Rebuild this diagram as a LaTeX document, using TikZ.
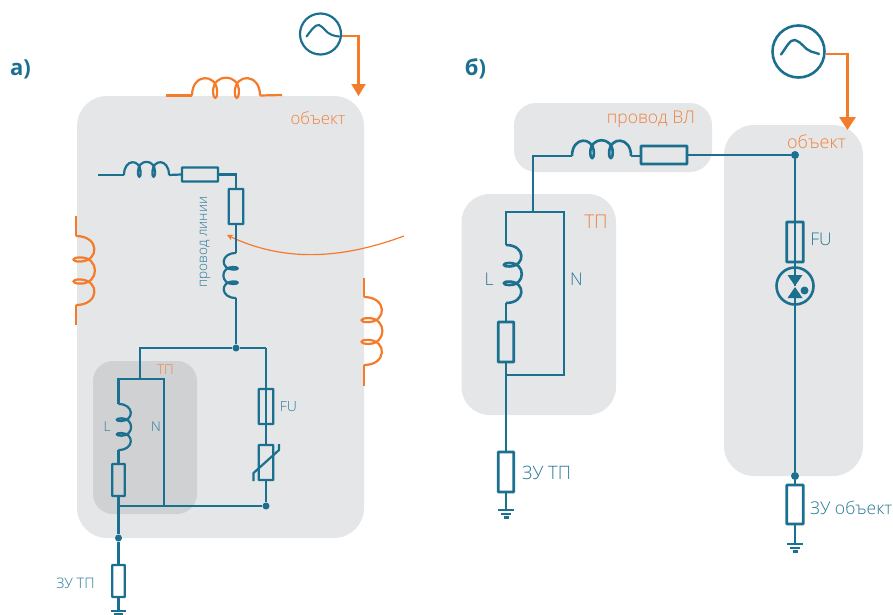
\documentclass[tikz,border=0pt]{standalone}
\usepackage{fontspec}
\setmainfont{Open Sans Light}
\newfontfamily\boldlabel{Open Sans}
\usetikzlibrary{arrows.meta}
\definecolor{teal1}{HTML}{1B6F8F}
\definecolor{tealtxt}{HTML}{2A7896}
\definecolor{org}{HTML}{F47B2A}
\definecolor{orgtxt}{HTML}{EF8340}
\definecolor{grayA}{HTML}{E5E6E8}
\definecolor{grayB}{HTML}{D0D1D3}
\tikzset{
  wire/.style={draw=teal1,line width=2.2pt},
  wireb/.style={draw=teal1,line width=2.6pt},
  owire/.style={draw=org,line width=2.2pt},
  rbox/.style={draw=teal1,line width=2.2pt,inner sep=0pt,rectangle,rounded corners=0.5pt},
  rboxb/.style={draw=teal1,line width=2.6pt,inner sep=0pt,rectangle,rounded corners=0.5pt},
  dotn/.style={circle,fill=teal1,inner sep=0pt,minimum size=7pt},
  panel/.style={fill=grayA},
  tl/.style={text=tealtxt,inner sep=0pt},
  ol/.style={text=orgtxt,inner sep=0pt},
  gen/.style={circle,draw=teal1,inner sep=0pt},
}
\newcommand{\coil}[6]{% x,y,rot,length,height,style
  \begin{scope}[shift={(#1,#2)},rotate=#3,xscale=#4,yscale=#5]
  \draw[#6,line join=round]
    (0,0) .. controls (0,-1.32) and (0.36,-1.32) .. (0.37,-0.25)
    .. controls (0.375,0.28) and (0.31,0.28) .. (0.31,-0.25)
    .. controls (0.31,-1.32) and (0.69,-1.32) .. (0.69,-0.25)
    .. controls (0.69,0.28) and (0.625,0.28) .. (0.63,-0.25)
    .. controls (0.64,-1.32) and (1,-1.32) .. (1,0);
  \end{scope}}
\begin{document}
\begin{tikzpicture}[x=1pt,y=-1pt,font=\fontsize{13}{15}\selectfont]
\useasboundingbox (0,0) rectangle (893,614);
% panels
\fill[panel,rounded corners=30pt] (77,96) rectangle (364,538);
\fill[grayB,rounded corners=20pt] (93,361) rectangle (197,514);
\fill[panel,rounded corners=22pt] (514,103) rectangle (712,172);
\fill[panel,rounded corners=28pt] (461.5,194) rectangle (616,415);
\fill[panel,rounded corners=30pt] (724,125) rectangle (863,476);
% headings
\node[text=teal1,inner sep=0pt,font=\fontsize{22}{24}\selectfont\boldlabel\bfseries] (hA) at (20.5,69) {а)};
\node[text=teal1,inner sep=0pt,font=\fontsize{22}{24}\selectfont\boldlabel\bfseries] (hB) at (475.5,69) {б)};
% ---- panel a ----
\node[gen,line width=2.2pt,minimum size=41pt] (genA) at (320.5,34) {};
\draw[teal1,line width=2.1pt,line cap=round] (306.5,36.5) .. controls (310,32) and (315,24) .. (319,25)
  .. controls (324,27) and (326,33) .. (332,35) .. controls (335,36) and (337,36.3) .. (339,36.5);
\coordinate (a1) at (358.5,36);
\coordinate (a2) at (358.5,96);
\draw[owire,-{Triangle[length=12pt,width=14pt]}] (genA.east |- a1) -- (a1) -- (a2);
% orange coils
\coordinate (ot1) at (166,95.5); \coordinate (ot2) at (192,95.5);
\coordinate (ot3) at (260,95.5); \coordinate (ot4) at (282,95);
\draw[owire] (ot1) -- (ot2); \draw[owire] (ot3) -- (ot4);
\coil{192}{95.5}{0}{68}{17}{owire}
\coordinate (ol1) at (76,216); \coordinate (ol2) at (76,236);
\coordinate (ol3) at (76,305); \coordinate (ol4) at (76,325);
\draw[owire] (ol1) -- (ol2); \draw[owire] (ol3) -- (ol4);
\coil{76}{236}{-90}{69}{18}{owire}
\coordinate (or1) at (364,278); \coordinate (or2) at (364,297);
\coordinate (or3) at (364,365); \coordinate (or4) at (364,386);
\draw[owire] (or1) -- (or2); \draw[owire] (or3) -- (or4);
\coil{364}{297}{-90}{68}{17.5}{owire}
% thin orange pointer
\coordinate (p1) at (404,236);
\coordinate (p2) at (227,235);
\draw[draw=org,line width=1.2pt,-{Stealth[length=6pt,width=6pt]}] (p1) .. controls (350,256) and (290,265) .. (p2);
% line
\coordinate (w0) at (98,175);
\coordinate (w1) at (124,175);
\coordinate (w2) at (169,175);
\draw[wire] (w0) -- (w1);
\coil{124}{175}{0}{45}{12.5}{wire}
\node[rbox,minimum width=36pt,minimum height=14pt] (r1) at (200,174.5) {};
\draw[wire] (w2) -- (r1.west);
\node[rbox,minimum width=14.5pt,minimum height=35pt] (r2) at (236,206.5) {};
\coordinate (w3) at (236,174.5);
\draw[wire] (r1.east) -- (w3) -- (r2.north);
\coordinate (w4) at (236,253);
\coordinate (w5) at (236,298);
\draw[wire] (r2.south) -- (w4);
\coil{236}{253}{-90}{45}{-12}{wire}
\node[dotn,minimum size=7pt] (j1) at (236,348) {};
\draw[wire] (w5) -- (j1);
\coordinate (w6) at (140,348);
\coordinate (w7) at (140,379);
\coordinate (w8) at (266,348);
\draw[wire] (w7) -- (w6) -- (j1) -- (w8);
% TP a
\coordinate (t1) at (118.5,379);
\coordinate (t2) at (164,379);
\coordinate (t3) at (118.5,404);
\coordinate (t4) at (118.5,450);
\coordinate (t5) at (164,506);
\coordinate (t6) at (118.5,506);
\draw[wire,line join=miter] (t3) -- (t1) -- (t2) -- (t5);
\coil{118.5}{404}{-90}{46}{12}{wire}
\node[rbox,minimum width=12.5pt,minimum height=32pt] (r3) at (118.5,480) {};
\draw[wire] (t4) -- (r3.north);
\node[dotn] (j2) at (266,506) {};
\node[dotn] (j3) at (118.5,538) {};
\draw[wire] (r3.south) -- (j3);
\draw[wire] (t6) -- (j2);
% FU a + varistor
\node[rbox,minimum width=14.5pt,minimum height=35pt] (f1) at (266,406.5) {};
\node[rbox,minimum width=14.5pt,minimum height=35pt] (v1) at (266,462.5) {};
\draw[wire] (w8) -- (f1.north);
\draw[wire] (f1.north) -- (f1.south) -- (v1.north);
\draw[wire] (v1.south) -- (j2);
\coordinate (v2) at (253.5,481); \coordinate (v3) at (253.5,473);
\coordinate (v4) at (279,450); \coordinate (v5) at (279,444);
\draw[wire,line join=round] (v2) -- (v3) -- (v4) -- (v5);
% ground a
\node[rbox,minimum width=12.5pt,minimum height=32pt] (r4) at (118.5,581) {};
\draw[wire] (j3) -- (r4.north);
\coordinate (g1) at (118.5,611);
\coordinate (g1l) at (111,611); \coordinate (g1r) at (126,611);
\coordinate (g1a) at (114,614); \coordinate (g1b) at (123,614);
\draw[wire] (r4.south) -- (g1);
\draw[wire] (g1l) -- (g1r);
\draw[wire] (g1a) -- (g1b);
% labels a
\node[ol,font=\fontsize{16.8}{18}\selectfont] (la1) at (318,118.5) {объект};
\node[ol,font=\fontsize{13.5}{15}\selectfont] (la2) at (165.5,370) {ТП};
\node[tl,font=\fontsize{13.5}{15}\selectfont] (la3) at (107,426.5) {L};
\node[tl,font=\fontsize{13.5}{15}\selectfont] (la4) at (156,426.5) {N};
\node[tl,font=\fontsize{14}{16}\selectfont] (la5) at (288.5,406.5) {FU};
\node[tl,font=\fontsize{14.5}{16}\selectfont] (la6) at (75.5,583) {ЗУ ТП};
\node[tl,font=\fontsize{13.6}{15}\selectfont,rotate=90] (la7) at (205,242) {провод линии};
% ---- panel b ----
\node[gen,minimum size=52pt,line width=2.6pt] (genB) at (798.5,51.5) {};
\draw[teal1,line width=2.4pt,line cap=round] (781,54.5) .. controls (786,48) and (790,39) .. (795,40)
  .. controls (802,42) and (804,49) .. (811,51.5) .. controls (816,53) and (818,53.5) .. (819,54);
\coordinate (b1) at (847.5,54);
\coordinate (b2) at (847.5,130);
\draw[owire,line width=2.8pt,-{Triangle[length=13pt,width=16pt]}] (genB.east |- b1) -- (b1) -- (b2);
\coordinate (c1) at (533,212);
\coordinate (c2) at (533,156);
\coordinate (c3) at (572,156);
\coordinate (c4) at (631,156);
\draw[wireb,line join=miter] (c1) -- (c2) -- (c3);
\coil{572}{156}{0}{59}{15}{wireb}
\node[rboxb,minimum width=46pt,minimum height=18pt] (r5) at (664,155) {};
\draw[wireb] (c4) -- (r5.west |- c4);
\node[dotn,minimum size=8pt] (j4) at (795,155) {};
\draw[wireb] (r5.east) -- (j4);
\coordinate (d1) at (506,212);
\coordinate (d2) at (564,212);
\coordinate (d3) at (506,245);
\coordinate (d4) at (506,303);
\coordinate (d5) at (564,375);
\coordinate (d6) at (506,375);
\draw[wireb,line join=miter] (d3) -- (d1) -- (d2) -- (d5) -- (d6);
\coil{506}{245}{-90}{58}{15}{wireb}
\node[rboxb,minimum width=15.5pt,minimum height=40pt] (r6) at (506,342) {};
\draw[wireb] (d4) -- (r6.north);
\node[rboxb,minimum width=15.5pt,minimum height=40pt] (r7) at (506,472) {};
\draw[wireb] (r6.south) -- (r7.north);
\coordinate (g2) at (506,510);
\coordinate (g2l) at (498,510); \coordinate (g2r) at (514,510);
\coordinate (g2a) at (501,514); \coordinate (g2b) at (511,514);
\coordinate (g2c) at (503.5,517.5); \coordinate (g2d) at (508.5,517.5);
\draw[wireb] (r7.south) -- (g2);
\draw[wire] (g2l) -- (g2r); \draw[wire] (g2a) -- (g2b); \draw[wire] (g2c) -- (g2d);
% object b
\node[rboxb,minimum width=16.5pt,minimum height=40pt] (f2) at (795,242) {};
\draw[wireb] (j4) -- (f2.north);
\draw[wireb] (f2.north) -- (f2.south);
\node[circle,draw=teal1,line width=2.6pt,inner sep=0pt,minimum size=37pt] (lamp) at (795,286) {};
\draw[wireb] (f2.south) -- (lamp.north);
\coordinate (l1) at (787.5,275); \coordinate (l2) at (802.5,275); \coordinate (l3) at (795,286);
\coordinate (l4) at (787.5,298); \coordinate (l5) at (802.5,298); \coordinate (l6) at (795,287);
\draw[wireb] (lamp.north) -- (l3);
\fill[teal1] (l1) -- (l2) -- (l3) -- cycle;
\fill[teal1] (l4) -- (l5) -- (l6) -- cycle;
\node[circle,fill=teal1,inner sep=0pt,minimum size=8pt] (lampdot) at (804.5,290.5) {};
\node[dotn,minimum size=8pt] (j5) at (795,476) {};
\coordinate (l7) at (795,298);
\draw[wireb] (l7) -- (j5);
\node[rboxb,minimum width=16.5pt,minimum height=39pt] (r8) at (795,504.5) {};
\draw[wireb] (j5) -- (r8.north);
\coordinate (g3) at (795,544);
\coordinate (g3l) at (787,544); \coordinate (g3r) at (803,544);
\coordinate (g3a) at (790,548); \coordinate (g3b) at (800,548);
\coordinate (g3c) at (792.5,551.5); \coordinate (g3d) at (797.5,551.5);
\draw[wireb] (r8.south) -- (g3);
\draw[wire] (g3l) -- (g3r); \draw[wire] (g3a) -- (g3b); \draw[wire] (g3c) -- (g3d);
% labels b
\node[ol,font=\fontsize{17.5}{19}\selectfont] (lb1) at (651,119.5) {провод ВЛ};
\node[ol,font=\fontsize{18}{20}\selectfont] (lb2) at (816.5,142) {объект};
\node[ol,font=\fontsize{19}{21}\selectfont] (lb3) at (596,222) {ТП};
\node[tl,font=\fontsize{17.5}{19}\selectfont] (lb4) at (489,279) {L};
\node[tl,font=\fontsize{17.5}{19}\selectfont] (lb5) at (576.5,279) {N};
\node[tl,font=\fontsize{17.5}{19}\selectfont] (lb6) at (821,239) {FU};
\node[tl,font=\fontsize{18.5}{20}\selectfont,anchor=west] (lb7) at (522,473) {ЗУ ТП};
\node[tl,font=\fontsize{17.6}{20}\selectfont,anchor=west] (lb8) at (810,508) {ЗУ объект};
\end{tikzpicture}
\end{document}
